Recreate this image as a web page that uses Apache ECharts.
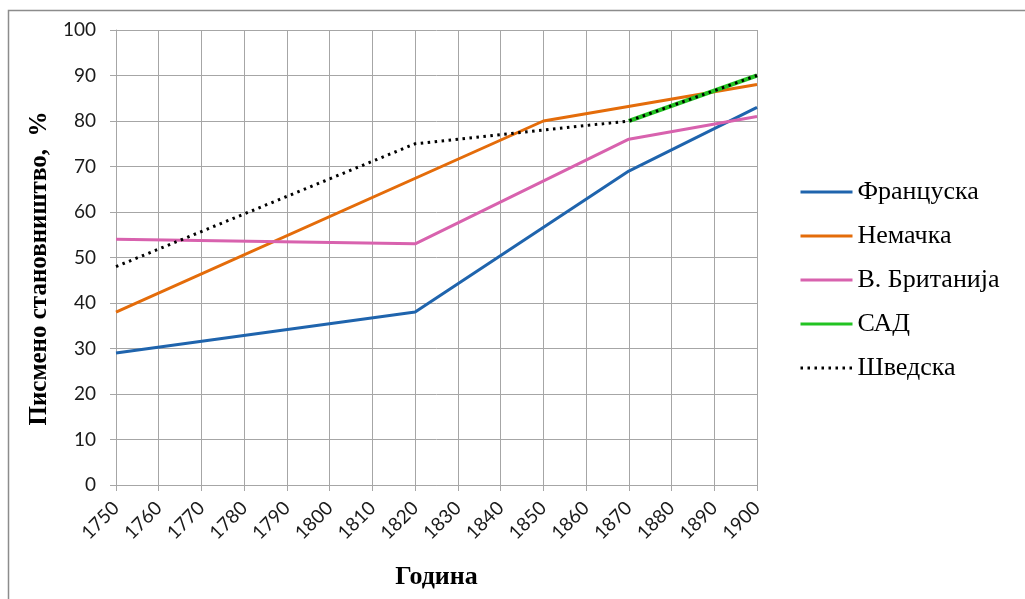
<!DOCTYPE html>
<html>
<head>
<meta charset="utf-8">
<script src="https://cdn.jsdelivr.net/npm/echarts@6/dist/echarts.min.js"></script>
<style>
  html, body { margin: 0; padding: 0; background: #ffffff; }
  #chart { width: 1025px; height: 599px; }
</style>
</head>
<body>
<div id="chart"></div>
<script>
// Literacy rate by decade (% of population); null = no reading, line is bridged
var years = ['1750', '1760', '1770', '1780', '1790', '1800', '1810', '1820',
             '1830', '1840', '1850', '1860', '1870', '1880', '1890', '1900'];
var france  = [29, null, null, null, null, null, null, 38, null, null, null, null, 69, null, null, 83];
var germany = [38, null, null, null, null, null, null, null, null, null, 80, null, null, null, null, 88];
var britain = [54, null, null, null, null, null, null, 53, null, null, null, null, 76, null, null, 81];
var usa     = [null, null, null, null, null, null, null, null, null, null, null, null, 80, null, null, 90];
var sweden  = [48, null, null, null, null, null, null, 75, null, null, null, null, 80, null, null, 90];
var yTicks  = { min: 0, max: 100, step: 10 };

var serif = '"Liberation Serif", "DejaVu Serif", serif';
var sans = 'Lato, "Liberation Sans", sans-serif';
var gridColor = '#a6a6a6';

function lineSeries(name, data, color, width, type) {
  return {
    name: name,
    type: 'line',
    data: data,
    connectNulls: true,
    showSymbol: false,
    symbol: 'none',
    smooth: false,
    lineStyle: { color: color, width: width, type: type || 'solid' },
    itemStyle: { color: color },
    emphasis: { disabled: true }
  };
}

var chart = echarts.init(document.getElementById('chart'), null, { renderer: 'canvas' });
chart.setOption({
  animation: false,
  backgroundColor: '#ffffff',
  graphic: [{
    type: 'rect',
    shape: { x: 8.5, y: 10.5, width: 1040, height: 620 },
    style: { fill: 'none', stroke: '#8c8c8c', lineWidth: 1.5 },
    silent: true
  }],
  grid: { left: 116, right: 268, top: 30, bottom: 114, containLabel: false },
  legend: {
    orient: 'vertical',
    left: 799,
    top: 179,
    padding: 0,
    itemWidth: 52,
    itemHeight: 20,
    itemGap: 18,
    itemStyle: { opacity: 0 },
    lineStyle: { width: 3 },
    textStyle: { fontFamily: serif, fontSize: 26, lineHeight: 26, color: '#000000', padding: [0, 0, 0, 0] },
    data: ['Француска', 'Немачка', 'В. Британија', 'САД', 'Шведска']
  },
  xAxis: {
    type: 'category',
    data: years,
    boundaryGap: false,
    name: 'Година',
    nameLocation: 'middle',
    nameGap: 79,
    nameTextStyle: { fontFamily: serif, fontSize: 26, fontWeight: 'bold', color: '#000000' },
    axisLine: { show: true, lineStyle: { color: gridColor, width: 1 } },
    axisTick: { show: true, alignWithLabel: true, length: 6, lineStyle: { color: gridColor } },
    axisLabel: { rotate: 45, margin: 20, fontFamily: sans, fontSize: 19, color: '#1a1a1a', interval: 0 },
    splitLine: { show: true, lineStyle: { color: gridColor, width: 1 } }
  },
  yAxis: {
    type: 'value',
    min: yTicks.min,
    max: yTicks.max,
    interval: yTicks.step,
    name: 'Писмено становништво,  %',
    nameLocation: 'middle',
    nameGap: 58,
    nameTextStyle: { fontFamily: serif, fontSize: 25, fontWeight: 'bold', color: '#000000', padding: [0, 22, 0, 0] },
    axisLine: { show: true, lineStyle: { color: gridColor, width: 1 } },
    axisTick: { show: true, length: 6, lineStyle: { color: gridColor } },
    axisLabel: { margin: 20, fontFamily: sans, fontSize: 19, color: '#1a1a1a' },
    splitLine: { show: true, lineStyle: { color: gridColor, width: 1 } }
  },
  series: [
    lineSeries('Француска', france, '#1f64ad', 3),
    lineSeries('Немачка', germany, '#e46c0a', 3),
    lineSeries('В. Британија', britain, '#d862ae', 3),
    lineSeries('САД', usa, '#22c322', 4.5),
    lineSeries('Шведска', sweden, '#000000', 3, [2.5, 4.5])
  ]
});
</script>
</body>
</html>
